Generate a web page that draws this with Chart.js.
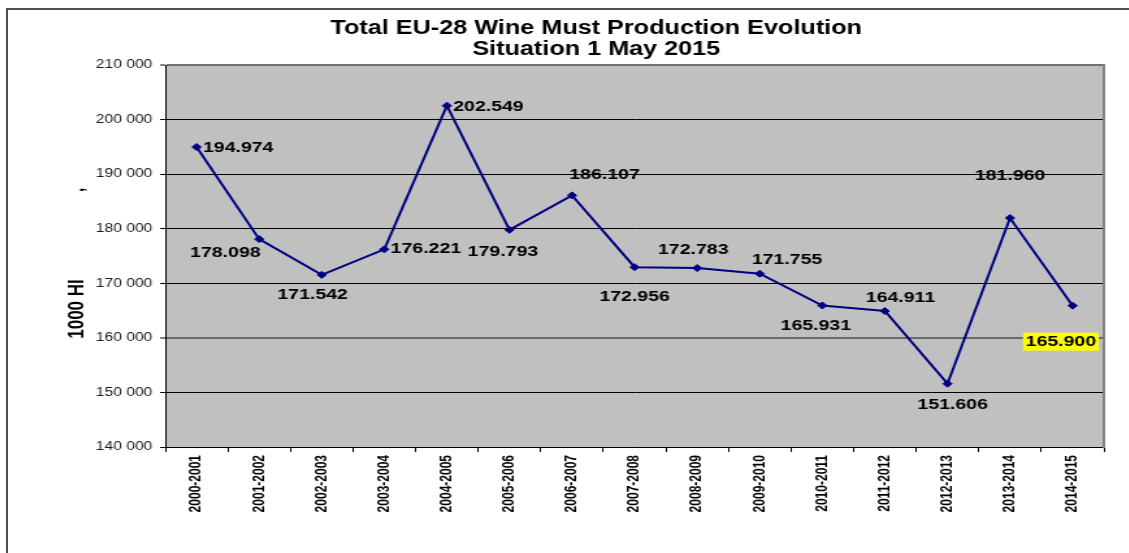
<!DOCTYPE html>
<html>
<head>
<meta charset="utf-8">
<script src="https://cdn.jsdelivr.net/npm/chart.js@4"></script>
<style>
    body { margin: 0; background: #ffffff; overflow: hidden; }
    #Frame {
        position: absolute; left: 6px; top: 8px;
        width: 1400px; height: 700px;
        border-top: 2px solid #505050;
        border-left: 2px solid #505050;
    }
    /* the original picture is stretched sideways, so the canvas is too */
    #WineChart {
        position: absolute; left: 0; top: 0;
        transform: scaleX(1.3);
        transform-origin: 0 0;
    }
</style>
</head>
<body>
<div id="Frame">
    <canvas id="WineChart" width="905" height="545"></canvas>
</div>
<script>
const WineChartElement = document.getElementById("WineChart");

// wine must production, 1000 hl
const SeasonLabels = [
    '2000-2001', '2001-2002', '2002-2003', '2003-2004', '2004-2005',
    '2005-2006', '2006-2007', '2007-2008', '2008-2009', '2009-2010',
    '2010-2011', '2011-2012', '2012-2013', '2013-2014', '2014-2015'
];
const ProductionValues = [
    194974, 178098, 171542, 176221, 202549,
    179793, 186107, 172956, 172783, 171755,
    165931, 164911, 151606, 181960, 165900
];
const AxisMin = 140000;
const AxisMax = 210000;
const AxisStep = 10000;

// where each value label sits relative to its point
const LabelOffsetX = [32, -26, -7, 32, 32, -5, 25, 0, -3, 21, -5, 12, 4, 0, -9];
const LabelOffsetY = [1, 14, 20, 0, 1, 22, -21, 30, -18, -14, 20, -13, 21, -42, 36];
const HighlightIndex = 14;

const PLOT_BG = '#C0C0C0';
const LINE_COLOR = '#000080';

function FormatAxisValue(value)
{
    return value.toString().replace(/\B(?=(\d{3})+(?!\d))/g, ' ');
}

function FormatPointValue(value)
{
    return value.toString().replace(/\B(?=(\d{3})+(?!\d))/g, '.');
}

const PlotBackgroundPlugin = {
    id: 'plotBackground',
    beforeDraw(chart) {
        const {ctx, chartArea} = chart;
        ctx.save();
        ctx.fillStyle = PLOT_BG;
        ctx.fillRect(chartArea.left, chartArea.top, chartArea.right - chartArea.left, chartArea.bottom - chartArea.top);
        ctx.restore();
    }
};

const ValueLabelPlugin = {
    id: 'valueLabels',
    afterDatasetsDraw(chart) {
        const ctx = chart.ctx;
        const meta = chart.getDatasetMeta(0);
        ctx.save();
        ctx.font = 'bold 15px "Liberation Sans", Arial, sans-serif';
        ctx.textAlign = 'center';
        ctx.textBaseline = 'middle';
        for (let i = 0; i < meta.data.length; i++)
        {
            const point = meta.data[i];
            const text = FormatPointValue(ProductionValues[i]);
            const x = point.x + LabelOffsetX[i];
            const y = point.y + LabelOffsetY[i];
            if (i == HighlightIndex)
            {
                const w = ctx.measureText(text).width + 4;
                ctx.fillStyle = '#FFFF00';
                ctx.fillRect(x - w / 2, y - 9, w, 18);
            }
            ctx.fillStyle = '#000000';
            ctx.fillText(text, x, y);
        }
        ctx.restore();
    }
};

const AxisTitlePlugin = {
    id: 'axisTitle',
    afterDraw(chart) {
        const ctx = chart.ctx;
        ctx.save();
        ctx.font = 'bold 17px "Liberation Sans", Arial, sans-serif';
        ctx.fillStyle = '#000000';
        ctx.textAlign = 'center';
        ctx.textBaseline = 'middle';
        ctx.translate(53.8, 299);
        ctx.rotate(-Math.PI / 2);
        ctx.fillText('1000 Hl', 0, 0);
        ctx.fillText(',', 119, 0);
        ctx.restore();
    }
};

const WineChartVar = new Chart(WineChartElement, {
    type: 'line',
    data: {
        labels: SeasonLabels,
        datasets: [{
            label: 'Wine must production',
            data: ProductionValues,
            borderColor: LINE_COLOR,
            backgroundColor: LINE_COLOR,
            borderWidth: 2,
            pointStyle: 'rectRot',
            pointRadius: 3.5,
            pointBorderWidth: 1,
            tension: 0
        }]
    },
    options: {
        responsive: false,
        animation: false,
        devicePixelRatio: 1,
        layout: {
            padding: { top: 8, left: 0, right: 0, bottom: 0 }
        },
        scales: {
            x: {
                offset: true,
                grid: {
                    offset: true,
                    drawOnChartArea: false,
                    color: '#000000',
                    tickLength: 5
                },
                border: { color: '#000000', width: 1 },
                ticks: {
                    autoSkip: false,
                    maxRotation: 90,
                    minRotation: 90,
                    padding: 3,
                    color: '#000000',
                    font: { family: '"Liberation Sans", Arial, sans-serif', size: 12, weight: 'bold' }
                },
                afterFit: (scale) => { scale.height = 108; }
            },
            y: {
                min: AxisMin,
                max: AxisMax,
                grid: {
                    color: (c) => (c.tick && c.tick.value == AxisMax) ? '#707070' : (c.tick && c.tick.value == 160000 ? '#6a6a6a' : '#000000'),
                    lineWidth: (c) => (c.tick && (c.tick.value == AxisMax || c.tick.value == 160000)) ? 2 : 1,
                    tickLength: 4,
                    tickColor: '#000000',
                    tickWidth: 1
                },
                border: { color: '#000000', width: 1 },
                ticks: {
                    stepSize: AxisStep,
                    padding: 6,
                    color: '#1a1a1a',
                    font: { family: '"Liberation Sans", Arial, sans-serif', size: 12 },
                    callback: (value) => FormatAxisValue(value)
                },
                afterFit: (scale) => { scale.width = 121; }
            },
            // empty right axis: gives the grey right edge of the plot and the space after it
            yRight: {
                position: 'right',
                display: true,
                grid: { display: false },
                ticks: { display: false },
                border: { display: true, color: '#808080', width: 2 },
                afterFit: (scale) => { scale.width = 62; }
            }
        },
        plugins: {
            legend: { display: false },
            tooltip: { enabled: false },
            title: {
                display: true,
                text: ['Total EU-28 Wine Must Production Evolution', 'Situation 1 May 2015'],
                color: '#000000',
                font: { family: '"Liberation Sans", Arial, sans-serif', size: 19.4, weight: 'bold', lineHeight: 1.08 },
                padding: { top: 0, bottom: 5.1 }
            }
        }
    },
    plugins: [PlotBackgroundPlugin, ValueLabelPlugin, AxisTitlePlugin]
});
</script>
</body>
</html>
